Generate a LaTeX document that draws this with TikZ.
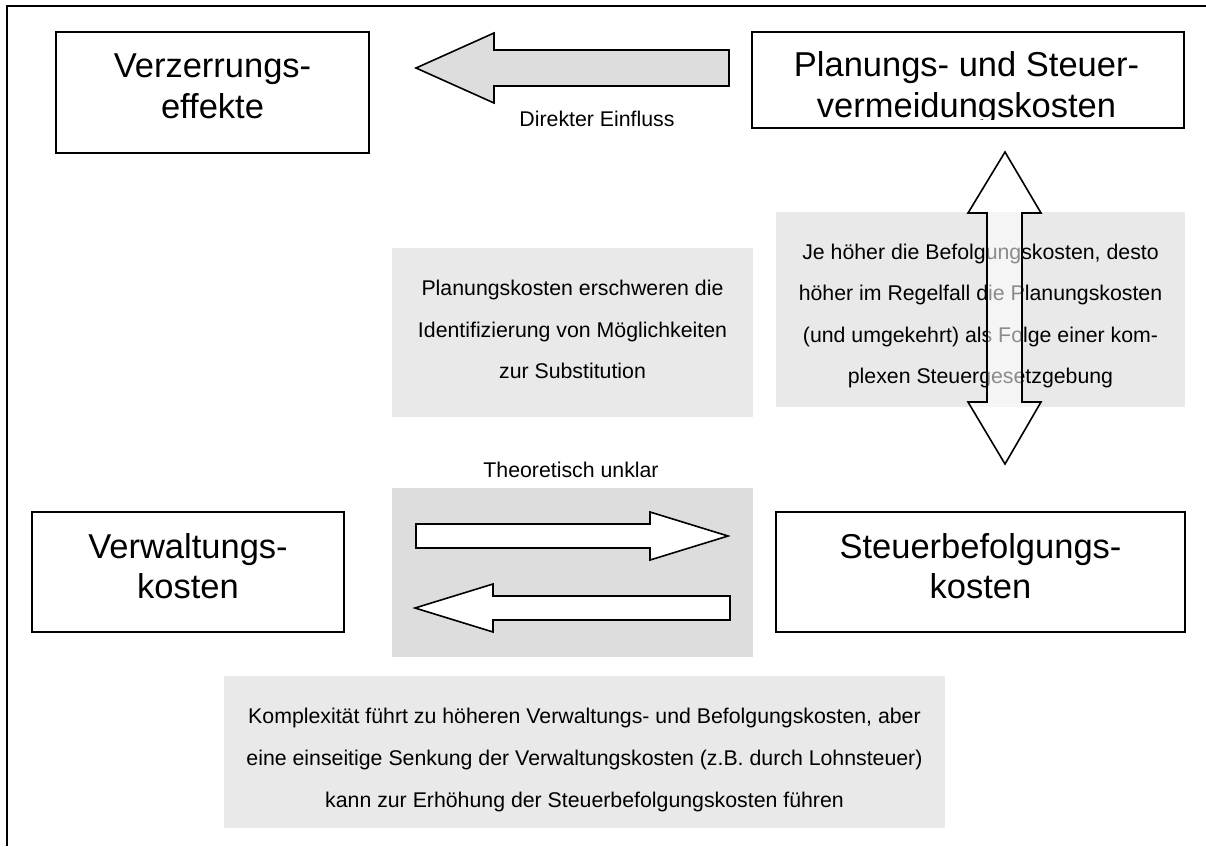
\documentclass[tikz,border=0pt]{standalone}
\usepackage{fontspec}
\setmainfont{Liberation Sans}
\definecolor{boxgray}{HTML}{E9E9E9}
\definecolor{midgray}{HTML}{DDDDDD}
\tikzset{
  framebox/.style={draw=black, line width=1.8pt, fill=white, inner sep=0pt},
  bigtxt/.style={anchor=base, inner sep=0pt, font=\fontsize{34.5}{41}\selectfont},
  smalltxt/.style={anchor=base, inner sep=0pt, font=\fontsize{21.3}{25}\selectfont},
  graybox/.style={fill=boxgray, draw=none, inner sep=0pt},
  blockarrow/.style={draw=black, line width=1.6pt, line join=miter},
}
\begin{document}
\begin{tikzpicture}[x=1pt,y=-1pt]
\useasboundingbox (0,0) rectangle (1206,846);
% outer frame (clipped at right and bottom)
\draw[line width=1.8pt] (7,846) -- (7,6) -- (1206,6);

% main boxes
\node[framebox, minimum width=313pt, minimum height=121pt] (verz) at (212.5,92.5) {};
\node[bigtxt] (verz1) at (212.5,77) {Verzerrungs-};
\node[bigtxt] (verz2) at (212.5,118) {effekte};

\node[framebox, minimum width=432pt, minimum height=96pt] (plan) at (968,80) {};
\node[bigtxt] (plan1) at (966.5,76.5) {Planungs- und Steuer-};
\begin{scope}
  \clip (752,32) rectangle (1184,119.5);
  \node[bigtxt] (plan2) at (966.5,117) {vermeidungskosten};
\end{scope}

\node[framebox, minimum width=312pt, minimum height=120pt] (verw) at (188,572) {};
\node[bigtxt] (verw1) at (188,558) {Verwaltungs-};
\node[bigtxt] (verw2) at (188,598) {kosten};

\node[framebox, minimum width=409pt, minimum height=120pt] (steuer) at (980.5,572) {};
\node[bigtxt] (steuer1) at (980.5,558) {Steuerbefolgungs-};
\node[bigtxt] (steuer2) at (980.5,598) {kosten};

% top block arrow
\draw[blockarrow, fill=midgray] (416,68) -- (494,33) -- (494,50) -- (729,50) -- (729,86)
  -- (494,86) -- (494,103) -- cycle;
\node[smalltxt] (direkt) at (597,126) {Direkter Einfluss};

% middle left gray box
\node[graybox, minimum width=361pt, minimum height=169pt] (subst) at (572.5,332.5) {};
\node[smalltxt] (subst1) at (572.5,295) {Planungskosten erschweren die};
\node[smalltxt] (subst2) at (572.5,337) {Identifizierung von Möglichkeiten};
\node[smalltxt] (subst3) at (572.5,378) {zur Substitution};

% right gray box
\node[graybox, minimum width=409pt, minimum height=195pt] (befolg) at (980.5,309.5) {};
\node[smalltxt] (befolg1) at (980.5,259) {Je höher die Befolgungskosten, desto};
\node[smalltxt] (befolg2) at (980.5,300) {höher im Regelfall die Planungskosten};
\node[smalltxt] (befolg3) at (980.5,342) {(und umgekehrt) als Folge einer kom-};
\node[smalltxt] (befolg4) at (980.5,383) {plexen Steuergesetzgebung};

% vertical double arrow (semi-transparent)
\draw[blockarrow, fill=white, fill opacity=0.55] (1005,152) -- (1041,213) -- (1022,213) -- (1022,402)
  -- (1041,402) -- (1005,464) -- (968,402) -- (987,402) -- (987,213) -- (968,213) -- cycle;

% theoretically unclear box
\node[smalltxt] (unklar) at (571,477) {Theoretisch unklar};
\node[graybox, fill=midgray, minimum width=361pt, minimum height=169pt] (unklarbox) at (572.5,572.5) {};
\draw[blockarrow, fill=white] (416,524) -- (650,524) -- (650,512) -- (728,536) -- (650,560)
  -- (650,548) -- (416,548) -- cycle;
\draw[blockarrow, fill=white] (415,608) -- (493,584) -- (493,596) -- (730,596) -- (730,620)
  -- (493,620) -- (493,632) -- cycle;

% bottom gray box
\node[graybox, minimum width=721pt, minimum height=152pt] (komplex) at (584.5,752) {};
\node[smalltxt] (komplex1) at (584.5,723) {Komplexität führt zu höheren Verwaltungs- und Befolgungskosten, aber};
\node[smalltxt] (komplex2) at (584.5,765) {eine einseitige Senkung der Verwaltungskosten (z.B. durch Lohnsteuer)};
\node[smalltxt] (komplex3) at (584.5,807) {kann zur Erhöhung der Steuerbefolgungskosten führen};
\end{tikzpicture}
\end{document}
